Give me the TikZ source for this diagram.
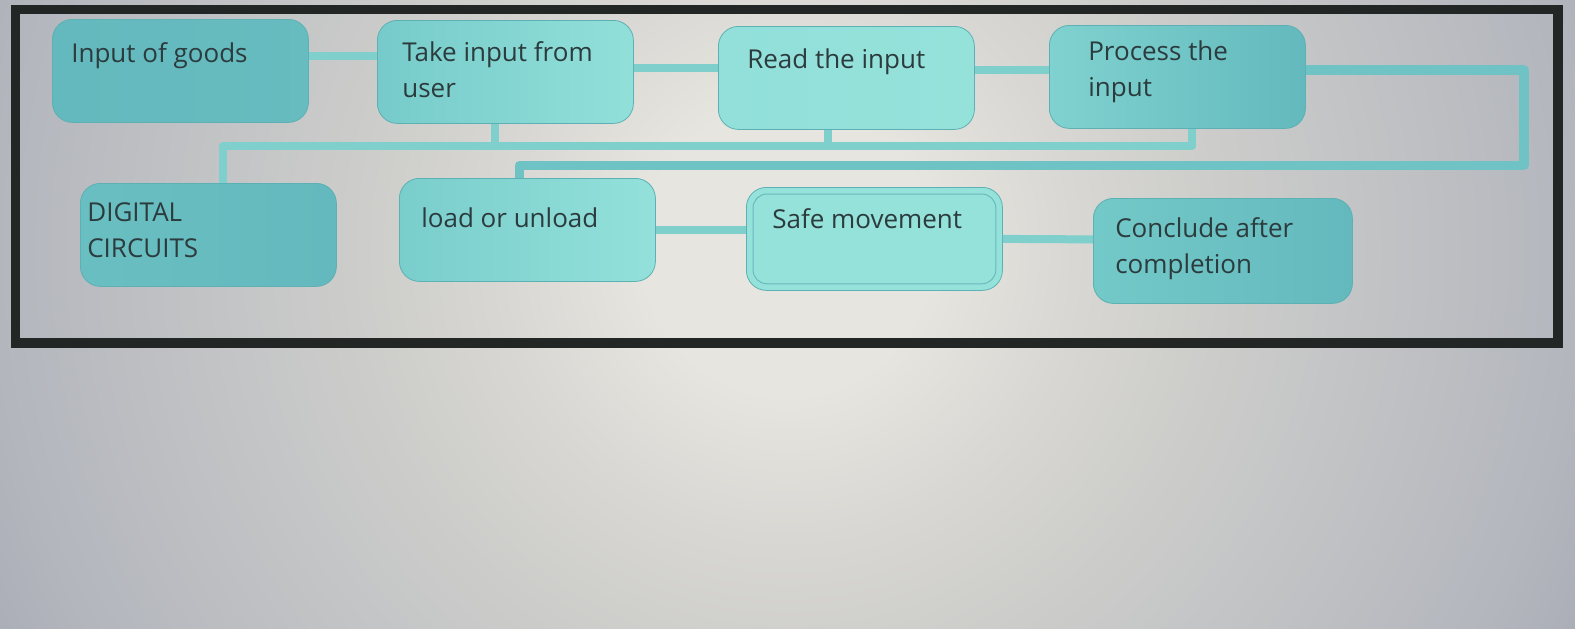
\documentclass[tikz,border=0pt]{standalone}
\usepackage{fontspec}
\setmainfont{Open Sans}
\usepackage{tikz}
\usetikzlibrary{positioning}
\definecolor{bgA}{HTML}{E7E5DF}
\definecolor{bgB}{HTML}{D8D7D3}
\definecolor{bgC}{HTML}{CFCFCC}
\definecolor{bgD}{HTML}{B3B6BD}
\definecolor{bgE}{HTML}{A8ACB5}
\definecolor{framec}{HTML}{222624}
\definecolor{tealedge}{HTML}{5DB0B3}
\definecolor{linkc}{HTML}{7FD0CD}
\definecolor{loopc}{HTML}{70C3C5}
\definecolor{textc}{HTML}{2C3B3D}
\definecolor{tealdark}{HTML}{63B9BD}
\definecolor{tealmid}{HTML}{76CBCA}
\definecolor{teallight}{HTML}{95E2DB}
\pgfdeclareradialshading{bgshade}{\pgfpoint{0bp}{0bp}}{color(0bp)=(bgA); color(4bp)=(bgA); color(8bp)=(bgB); color(11bp)=(bgC); color(22bp)=(bgD); color(25bp)=(bgE); color(50bp)=(bgE)}
\tikzset{basic/.style={draw=tealedge,line width=0.8pt,rounded corners=20pt,minimum width=256pt,minimum height=103pt,anchor=north west,inner sep=0pt}}
\tikzset{boxtext/.style={anchor=north west,inner sep=0pt,align=left,text=textc,font=\fontsize{26}{36}\selectfont}}
\tikzset{link/.style={draw=linkc,line width=8pt,line join=round}}

\begin{document}
\begin{tikzpicture}[
x = 1pt, y = -1pt, % pixel units, y downwards
semithick % line style
]
\useasboundingbox (0,0) rectangle (1575,629);
\begin{scope}
\clip (0,0) rectangle (1575,629);
\shade[shading=bgshade] (787,250) circle (900);
\end{scope}
\draw[line width=9.5pt,framec] (15.5,9.5) rectangle (1558,343);

% first row
\node[basic,left color=tealdark,right color=tealdark!85!tealmid] (goods) at (52,19) {};
\node[basic,left color=tealmid,right color=teallight!90!tealmid] (take) at (377,20) {};
\node[basic,left color=teallight!90!tealmid,right color=teallight] (read) at (718,26) {};
\node[basic,left color=tealmid!70!teallight,right color=tealdark] (proc) at (1049,25) {};

% second row
\node[basic,left color=tealdark!70!tealmid,right color=tealdark] (digi) at (80,183) {};
\node[basic,left color=tealmid!90!teallight,right color=teallight!95!tealmid] (load) at (399,178) {};
\node[basic,fill=teallight] (safe) at (746,187) {};
\node[basic,minimum width=259pt,minimum height=105pt,left color=tealmid!85!tealdark,right color=tealdark] (concl) at (1093,198) {};
\draw[tealedge!80!teallight,line width=1pt,rounded corners=14pt] ([shift={(7,7)}]safe.north west) rectangle ([shift={(-7,-7)}]safe.south east);

\node[boxtext] (goods-t) at ([shift={(19,23)}]goods.north west) {Input of goods};
\node[boxtext] (take-t) at ([shift={(25,21)}]take.north west) {Take input from\\user};
\node[boxtext] (read-t) at ([shift={(29,22)}]read.north west) {Read the input};
\node[boxtext] (proc-t) at ([shift={(39,15)}]proc.north west) {Process the\\input};
\node[boxtext] (digi-t) at ([shift={(7,19)}]digi.north west) {DIGITAL\\CIRCUITS};
\node[boxtext] (load-t) at ([shift={(22,29)}]load.north west) {load or unload};
\node[boxtext] (safe-t) at ([shift={(26,21)}]safe.north west) {Safe movement};
\node[boxtext] (concl-t) at ([shift={(22,19)}]concl.north west) {Conclude after\\completion};

% connectors
\draw[link] ([yshift=15pt]goods.east) -- ([yshift=16pt]take.west);
\draw[link] ([yshift=3.5pt]take.east) -- ([yshift=9.5pt]read.west);
\draw[link] ([yshift=7.5pt]read.east) -- ([yshift=6.5pt]proc.west);
\draw[link,draw=loopc,line width=9.5pt] ([yshift=7pt]proc.east) -- ++(218,0) -- ++(0,95.5) -| ([xshift=-8pt]load.north);
\draw[link] ([xshift=15pt]digi.north) -- ++(0,-37) -| ([xshift=15pt]proc.south);
\draw[link] ([xshift=-10pt]take.south) -- ++(0,23);
\draw[link] ([xshift=-18pt]read.south) -- ++(0,18);
\draw[link] (load.east) -- ([yshift=9pt]safe.west);
\draw[link] (safe.east) -- ([yshift=11.5pt]concl.west);
\end{tikzpicture}
\end{document}
